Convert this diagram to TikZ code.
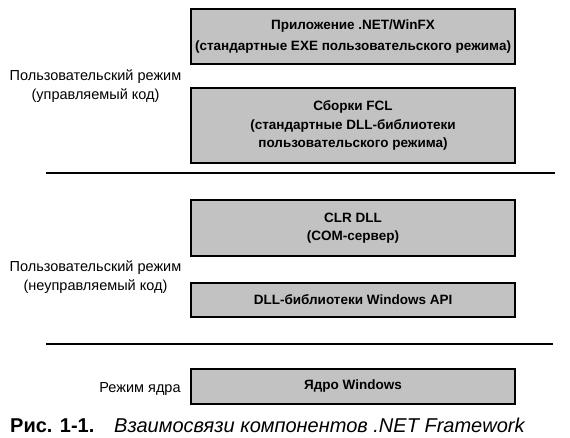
\documentclass[tikz,border=0pt]{standalone}
\usepackage{fontspec}
\setmainfont{Liberation Sans}
\definecolor{boxfill}{HTML}{C2C2C2}
\begin{document}
\begin{tikzpicture}[x=1pt,y=-1pt,
  layerbox/.style={draw=black, line width=2pt, fill=boxfill, minimum width=324pt,
    align=center, inner sep=0pt, font=\bfseries\fontsize{13.5}{18.5}\selectfont},
  sidelabel/.style={align=center, inner sep=0pt, font=\fontsize{14.5}{19}\selectfont},
  sepline/.style={line width=2pt},
  captext/.style={anchor=base west, inner sep=0pt}]
\useasboundingbox (0,0) rectangle (570,438);
\fill[white] (0,0) rectangle (570,438);
\node[layerbox, minimum height=55pt, font=\bfseries\fontsize{13.5}{20.5}\selectfont] (app) at (353,36.5) {Приложение .NET/WinFX\\(стандартные EXE пользовательского режима)};
\node[layerbox, minimum height=75pt] (fcl) at (353,125.5) {Сборки FCL\\(стандартные DLL-библиотеки\\пользовательского режима)};
\node[layerbox, minimum height=56pt] (clr) at (353,228) {CLR DLL\\(COM-сервер)};
\node[layerbox, minimum height=34pt] (winapi) at (353,300) {DLL-библиотеки Windows API};
\node[layerbox, minimum height=35pt] (kernel) at (353,386.5) {Ядро Windows};
\node[sidelabel] (managed) at (95.5,86) {Пользовательский режим\\(управляемый код)};
\node[sidelabel] (unmanaged) at (95.5,277.5) {Пользовательский режим\\(неуправляемый код)};
\node[sidelabel] (kmode) at (140,389) {Режим ядра};
\coordinate (s1a) at (46,173.5);
\coordinate (s1b) at (555,173.5);
\coordinate (s2a) at (46,343.5);
\coordinate (s2b) at (553,343.5);
\draw[sepline] (s1a) -- (s1b);
\draw[sepline] (s2a) -- (s2b);
\node[captext, font=\bfseries\fontsize{20}{22}\selectfont] (figno) at (10,432) {Рис. 1-1.};
\node[captext, font=\itshape\fontsize{20}{22}\selectfont] (figtitle) at (114,432) {Взаимосвязи компонентов .NET Framework};
\end{tikzpicture}
\end{document}
